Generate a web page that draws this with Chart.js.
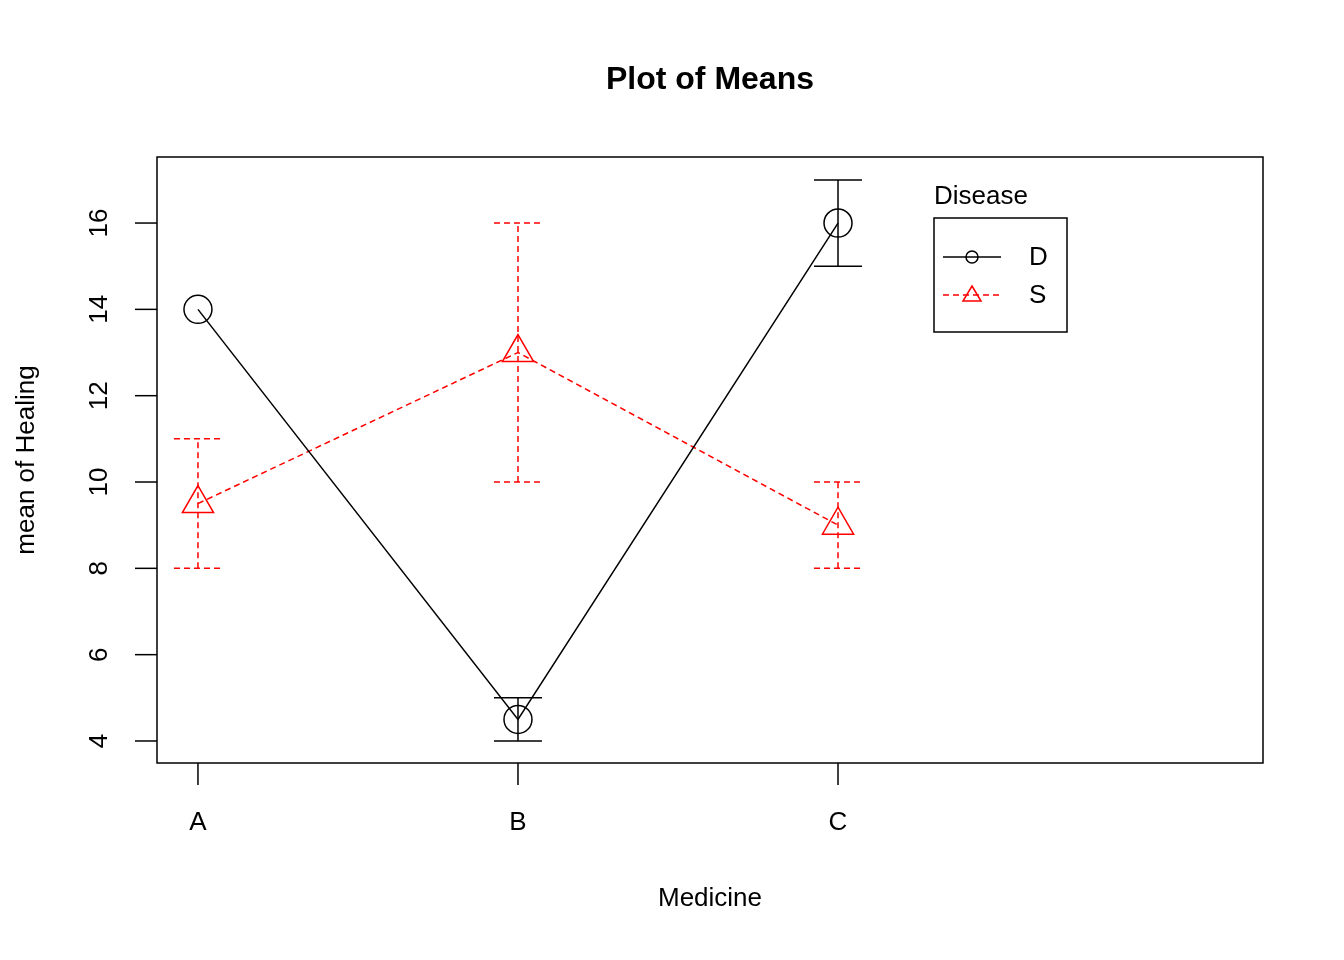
<!DOCTYPE html>
<html><head><meta charset="utf-8">
<script src="https://cdn.jsdelivr.net/npm/chart.js@4/dist/chart.umd.min.js"></script>
<style>html,body{margin:0;padding:0;background:#fff}#w{width:1344px;height:960px}</style>
</head><body><div id="w"><canvas id="c"></canvas></div>
<script>
const categories = ['A','B','C'];
const xPos = [1,2,3];
const dMeans = [14, 4.5, 16];
const dLow = [null, 4, 15];
const dHigh = [null, 5, 17];
const sMeans = [9.5, 13, 9];
const sLow = [8, 10, 8];
const sHigh = [11, 16, 10];
const yTicks = [4,6,8,10,12,14,16];
const FONT = '"Liberation Sans", Arial, sans-serif';

const custom = {
  id:'custom',
  beforeDatasetsDraw(chart){
    const {ctx, scales:{x,y}, chartArea:a} = chart;
    ctx.save();
    const bars = [[dLow,dHigh,'#000',[]],[sLow,sHigh,'#ff0000',[6,4]]];
    bars.forEach(([lo,hi,col,dash])=>{
      ctx.strokeStyle=col; ctx.lineWidth=1.5;
      xPos.forEach((xv,i)=>{
        if(lo[i]==null) return;
        const px=x.getPixelForValue(xv), y1=y.getPixelForValue(lo[i]), y2=y.getPixelForValue(hi[i]);
        ctx.setLineDash(dash);
        ctx.beginPath(); ctx.moveTo(px,y1); ctx.lineTo(px,y2);
        ctx.moveTo(px-24,y1); ctx.lineTo(px+24,y1);
        ctx.moveTo(px-24,y2); ctx.lineTo(px+24,y2); ctx.stroke();
      });
    });
    ctx.restore();
  },
  afterDraw(chart){
    const {ctx, scales:{x,y}, chartArea:a} = chart;
    ctx.save();
    ctx.setLineDash([]);
    ctx.strokeStyle='#000'; ctx.lineWidth=1.5;
    ctx.strokeRect(a.left,a.top,a.right-a.left,a.bottom-a.top);
    ctx.fillStyle='#000';
    ctx.font='26px '+FONT; ctx.textAlign='center'; ctx.textBaseline='middle';
    xPos.forEach((xv,i)=>{
      const px=x.getPixelForValue(xv);
      ctx.beginPath(); ctx.moveTo(px,a.bottom); ctx.lineTo(px,a.bottom+22); ctx.stroke();
      ctx.fillText(categories[i],px,823);
    });
    yTicks.forEach(t=>{
      const py=y.getPixelForValue(t);
      ctx.beginPath(); ctx.moveTo(a.left,py); ctx.lineTo(a.left-22,py); ctx.stroke();
      ctx.save(); ctx.translate(100,py); ctx.rotate(-Math.PI/2); ctx.fillText(String(t),0,0); ctx.restore();
    });
    ctx.fillText('Medicine',710,899);
    ctx.save(); ctx.translate(27,460); ctx.rotate(-Math.PI/2); ctx.fillText('mean of Healing',0,0); ctx.restore();
    ctx.font='bold 32px '+FONT; ctx.fillText('Plot of Means',710,80);
    // legend
    ctx.font='26px '+FONT; ctx.textAlign='left';
    ctx.fillText('Disease',934,197);
    ctx.strokeRect(934,218,133,114);
    ctx.beginPath(); ctx.moveTo(943,257); ctx.lineTo(1001,257); ctx.stroke();
    ctx.beginPath(); ctx.arc(972,257,6,0,Math.PI*2); ctx.stroke();
    ctx.fillText('D',1029,258);
    ctx.strokeStyle='#ff0000'; ctx.fillStyle='#000';
    ctx.setLineDash([6,4]);
    ctx.beginPath(); ctx.moveTo(943,295); ctx.lineTo(1001,295); ctx.stroke();
    ctx.setLineDash([]);
    ctx.beginPath(); ctx.moveTo(972,286); ctx.lineTo(981,301); ctx.lineTo(963,301); ctx.closePath(); ctx.stroke();
    ctx.fillText('S',1029,296);
    ctx.restore();
  }
};

new Chart(document.getElementById('c'),{
  type:'line',
  data:{datasets:[
    {label:'D',data:xPos.map((v,i)=>({x:v,y:dMeans[i]})),borderColor:'#000',borderWidth:1.5,pointStyle:'circle',pointRadius:14,pointBorderWidth:1.5,pointBackgroundColor:'rgba(0,0,0,0)',pointBorderColor:'#000',tension:0},
    {label:'S',data:xPos.map((v,i)=>({x:v,y:sMeans[i]})),borderColor:'#ff0000',borderWidth:1.5,borderDash:[6,4],pointStyle:'triangle',pointRadius:18,pointBorderWidth:1.5,pointBackgroundColor:'rgba(0,0,0,0)',pointBorderColor:'#ff0000',tension:0}
  ]},
  options:{
    responsive:true,maintainAspectRatio:false,animation:false,
    layout:{padding:{left:157,right:81,top:157,bottom:197}},
    plugins:{legend:{display:false},tooltip:{enabled:false}},
    scales:{
      x:{type:'linear',display:false,min:0.872,max:4.328},
      y:{type:'linear',display:false,min:3.49,max:17.53}
    }
  },
  plugins:[custom]
});
</script></body></html>
